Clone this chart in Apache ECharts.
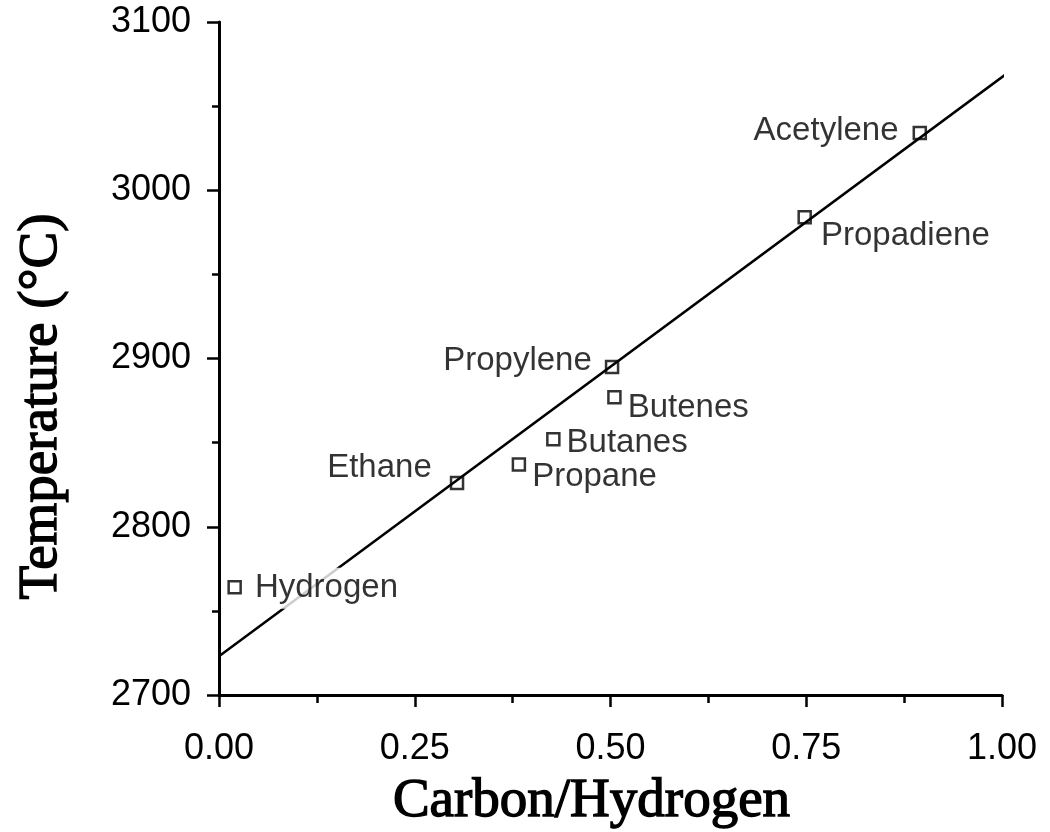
<!DOCTYPE html>
<html>
<head>
<meta charset="utf-8">
<style>
  html, body { margin: 0; padding: 0; background: #fff; }
  #chart { width: 1050px; height: 832px; }
</style>
<script src="https://cdn.jsdelivr.net/npm/echarts@6/dist/echarts.min.js"></script>
</head>
<body>
<div id="chart"></div>
<script>
// ---- data ----
var gasNames   = ['Hydrogen', 'Ethane', 'Propane', 'Butanes', 'Butenes', 'Propylene', 'Propadiene', 'Acetylene'];
var carbonRatio = [0.020, 0.304, 0.383, 0.427, 0.505, 0.502, 0.748, 0.895];
var temperature = [2764, 2826, 2837, 2852, 2877, 2895, 2984, 3034];
var fitLineX = [0.0, 1.008];
var fitLineY = [2723, 3070];
var xTicks = [0, 0.25, 0.5, 0.75, 1.0];
var yTicks = [2700, 2800, 2900, 3000, 3100];

// ---- label placement (style only) ----
var labelLayout = {
  'Hydrogen':   { position: 'right', distance: 11, offset: [0, 1],   bg: true },
  'Ethane':     { position: 'left',  distance: 18, offset: [0, -15] },
  'Propane':    { position: 'right', distance: 6,  offset: [0, 12] },
  'Butanes':    { position: 'right', distance: 6,  offset: [0, 4] },
  'Butenes':    { position: 'right', distance: 6,  offset: [0, 11] },
  'Propylene':  { position: 'left',  distance: 13, offset: [0, -6] },
  'Propadiene': { position: 'right', distance: 9,  offset: [0, 19] },
  'Acetylene':  { position: 'left',  distance: 14, offset: [0, -2] }
};

var scatterData = gasNames.map(function (n, i) {
  var L = labelLayout[n];
  return {
    name: n,
    value: [carbonRatio[i], temperature[i]],
    label: {
      show: true,
      formatter: n,
      position: L.position,
      distance: L.distance,
      offset: L.offset,
      backgroundColor: L.bg ? '#fff' : 'transparent',
      padding: L.bg ? [2, 2, 6, 2] : 0
    }
  };
});

var lineData = fitLineX.map(function (x, i) { return [x, fitLineY[i]]; });

var titleStyle = {
  fontFamily: 'Liberation Serif', fontWeight: 'normal', fontSize: 55, color: '#000',
  textBorderColor: '#000', textBorderWidth: 1.4
};

var chart = echarts.init(document.getElementById('chart'), null, { renderer: 'canvas' });
chart.setOption({
  backgroundColor: '#fff',
  animation: false,
  grid: { left: 219, right: 48, top: 22, bottom: 137, containLabel: false, outerBoundsMode: 'none' },
  xAxis: {
    type: 'value',
    min: xTicks[0], max: xTicks[xTicks.length - 1], interval: 0.25,
    name: 'Carbon/Hydrogen',
    nameLocation: 'middle',
    nameGap: 79,
    nameTextStyle: Object.assign({ padding: [0, 38, 0, 0] }, titleStyle),
    axisLine: { show: true, onZero: false, lineStyle: { color: '#000', width: 3 } },
    axisTick: { show: true, inside: false, length: 12, lineStyle: { color: '#000', width: 2.5 } },
    minorTick: { show: true, splitNumber: 2, length: 8, lineStyle: { color: '#000', width: 2.5 } },
    axisLabel: {
      margin: 36, fontFamily: 'Liberation Sans', fontSize: 36, color: '#000',
      formatter: function (v) { return v.toFixed(2); }
    },
    splitLine: { show: false }
  },
  yAxis: {
    type: 'value',
    min: yTicks[0], max: yTicks[yTicks.length - 1], interval: 100,
    name: 'Temperature (°C)',
    nameLocation: 'middle',
    nameGap: 150,
    nameRotate: 90,
    nameTextStyle: Object.assign({ padding: [0, 96, 0, 0] }, titleStyle),
    axisLine: { show: true, onZero: false, lineStyle: { color: '#000', width: 3 } },
    axisTick: { show: true, inside: false, length: 12, lineStyle: { color: '#000', width: 2.5 } },
    minorTick: { show: true, splitNumber: 2, length: 7, lineStyle: { color: '#000', width: 2.5 } },
    axisLabel: {
      margin: 28, fontFamily: 'Liberation Sans', fontSize: 36, color: '#000',
      formatter: function (v) { return String(v); }
    },
    splitLine: { show: false }
  },
  series: [
    {
      type: 'line',
      data: lineData,
      clip: false,
      symbol: 'none',
      lineStyle: { color: '#000', width: 2.5 },
      z: 1
    },
    {
      type: 'scatter',
      data: scatterData,
      symbol: 'rect',
      symbolSize: 12,
      itemStyle: { color: 'rgba(0,0,0,0)', borderColor: '#000', borderWidth: 2.5 },
      label: { fontFamily: 'Liberation Sans', fontSize: 33, color: '#000' },
      z: 3
    }
  ]
});
</script>
</body>
</html>
